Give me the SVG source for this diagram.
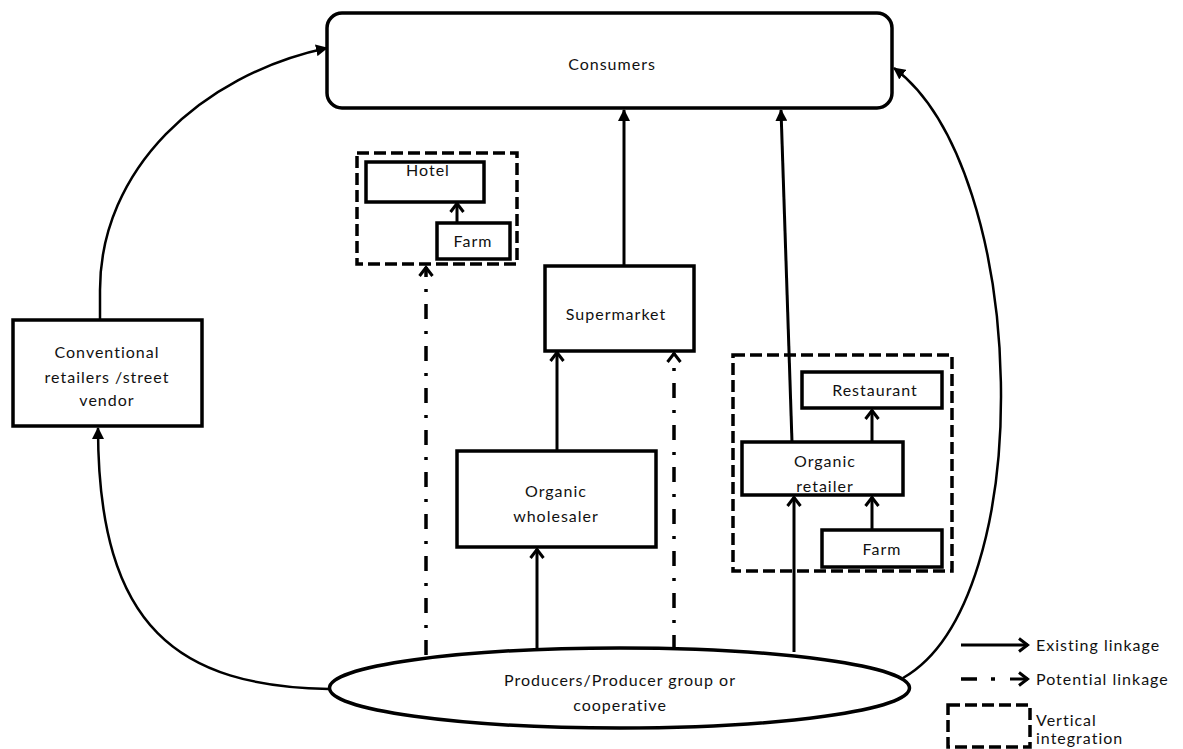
<svg xmlns="http://www.w3.org/2000/svg" width="1183" height="749" viewBox="0 0 1183 749">
<defs>
<style>
.box{fill:#fff;stroke:#000;stroke-width:3.5}
.dbox{fill:none;stroke:#000;stroke-width:3.5;stroke-dasharray:12 5}
.ln{fill:none;stroke:#000;stroke-width:3}
.cv{fill:none;stroke:#000;stroke-width:2.5}
.dd{fill:none;stroke:#000;stroke-width:3.5;stroke-dasharray:15 12 3 12}
text{font-family:Lato,"Open Sans","Liberation Sans",sans-serif;font-size:16px;fill:#111;letter-spacing:1px;text-anchor:middle}
.lg{text-anchor:start}
</style>
<marker id="chev" viewBox="0 0 16 16" refX="14" refY="8" markerWidth="16" markerHeight="16" markerUnits="userSpaceOnUse" orient="auto">
<path d="M5,1.5 L13.5,8 L5,14.5" fill="none" stroke="#000" stroke-width="3"/>
</marker>
<marker id="tri" viewBox="0 0 12 12" refX="11" refY="6" markerWidth="12" markerHeight="12" markerUnits="userSpaceOnUse" orient="auto">
<path d="M0,0 L12,6 L0,12 Z" fill="#000"/>
</marker>
</defs>

<g id="connectors">
<path class="cv" d="M100,320 L100,290 C100,170 200,75 327,48" marker-end="url(#tri)"/>
<path class="cv" d="M329,689 C180,686 98,630 98,428" marker-end="url(#tri)"/>
<path class="cv" d="M903,678 C1040,600 1030,170 894,68" marker-end="url(#tri)"/>
<path class="ln" d="M624,266 L624,110" marker-end="url(#tri)"/>
<path class="ln" d="M792,442 L781,110" marker-end="url(#tri)"/>
<path class="ln" d="M557,450 L557,352" marker-end="url(#chev)"/>
<path class="ln" d="M537,648 L537,549" marker-end="url(#chev)"/>
<path class="ln" d="M794,652 L794,497" marker-end="url(#chev)"/>
<path class="ln" d="M872,530 L872,497" marker-end="url(#chev)"/>
<path class="ln" d="M872,442 L872,410" marker-end="url(#chev)"/>
<path class="ln" d="M457,222 L457,203" marker-end="url(#chev)"/>
<path class="dd" d="M426,655 L426,267" marker-end="url(#chev)"/>
<path class="dd" d="M674,650 L674,353" marker-end="url(#chev)"/>
</g>

<g id="consumers">
<rect class="box" x="327" y="13" width="565" height="95" rx="15"/>
<text x="612" y="70">Consumers</text>
</g>

<g id="hotel-group">
<rect class="dbox" x="357" y="153" width="160" height="111"/>
</g>
<g id="hotel">
<rect class="box" x="366" y="162" width="118" height="40"/>
<text x="428" y="176">Hotel</text>
</g>
<g id="hotel-farm">
<rect class="box" x="437" y="223" width="73" height="36"/>
<text x="473" y="247">Farm</text>
</g>

<g id="supermarket">
<rect class="box" x="545" y="266" width="149" height="85"/>
<text x="616" y="320">Supermarket</text>
</g>

<g id="wholesaler">
<rect class="box" x="457" y="451" width="199" height="96"/>
<text x="556" y="497">Organic</text>
<text x="556" y="522">wholesaler</text>
</g>

<g id="conventional">
<rect class="box" x="13" y="320" width="189" height="106"/>
<text x="107" y="358">Conventional</text>
<text x="107" y="383">retailers /street</text>
<text x="107" y="406">vendor</text>
</g>

<g id="retail-group">
<rect class="dbox" x="733" y="355" width="219" height="216"/>
</g>
<g id="restaurant">
<rect class="box" x="802" y="372" width="140" height="36"/>
<text x="875" y="396">Restaurant</text>
</g>
<g id="organic-retailer">
<rect class="box" x="742" y="442" width="161" height="53"/>
<text x="825" y="467">Organic</text>
<text x="825" y="492">retailer</text>
</g>
<g id="retail-farm">
<rect class="box" x="822" y="530" width="120" height="37"/>
<text x="882" y="555">Farm</text>
</g>

<g id="producers">
<ellipse class="box" cx="619.5" cy="688" rx="290" ry="40"/>
<text x="620" y="686">Producers/Producer group or</text>
<text x="620" y="711">cooperative</text>
</g>

<g id="legend">
<path class="ln" d="M961,645 L1028,645" marker-end="url(#chev)"/>
<text class="lg" x="1036" y="651">Existing linkage</text>
<path d="M961,679 L977,679 M991,679 L995,679" stroke="#000" stroke-width="3.5"/>
<path class="ln" d="M1010,679 L1028,679" marker-end="url(#chev)"/>
<text class="lg" x="1036" y="685">Potential linkage</text>
<rect class="dbox" x="948" y="705" width="82" height="42"/>
<text class="lg" x="1036" y="726">Vertical</text>
<text class="lg" x="1036" y="744">integration</text>
</g>
</svg>
